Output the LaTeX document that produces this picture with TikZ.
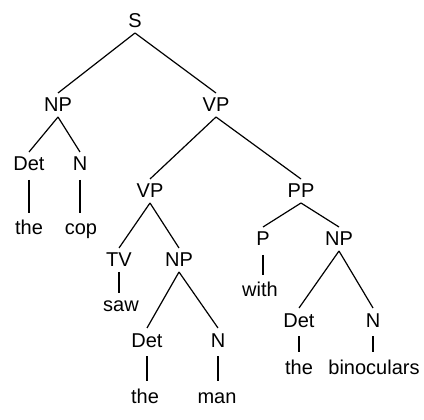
\documentclass[tikz,border=0pt]{standalone}
\usepackage{fontspec}
\setmainfont{Liberation Sans}
\begin{document}
\begin{tikzpicture}[x=1pt,y=-1pt,
  lab/.style={anchor=base,inner sep=0pt,outer sep=5pt,text height=14pt,text depth=0pt,
    font=\fontsize{20}{22}\selectfont},
  edge/.style={line width=1.2pt,line cap=butt},
  vedge/.style={edge,shorten <=4pt,shorten >=3pt}]
\useasboundingbox (0,0) rectangle (424,420);
\node[lab] (S) at (135,28) {S};
\node[lab] (NP1) at (58,112) {NP};
\node[lab] (VP1) at (216,112) {VP};
\node[lab] (Det1) at (29,171) {Det};
\node[lab] (N1) at (80,171) {N};
\node[lab] (the1) at (29,235) {the};
\node[lab] (cop) at (81,235) {cop};
\node[lab] (VP2) at (150,198) {VP};
\node[lab] (PP) at (301,198) {PP};
\node[lab] (TV) at (119,267) {TV};
\node[lab] (NP2) at (179,267) {NP};
\node[lab] (saw) at (121,312) {saw};
\node[lab] (Det2) at (147,347) {Det};
\node[lab] (N2) at (218,347) {N};
\node[lab] (the2) at (145,403) {the};
\node[lab] (man) at (217,403) {man};
\node[lab] (P) at (263,246) {P};
\node[lab] (NP3) at (339,246) {NP};
\node[lab] (with) at (260,297) {with};
\node[lab] (Det3) at (299,327) {Det};
\node[lab] (N3) at (373,327) {N};
\node[lab] (the3) at (299,374) {the};
\node[lab] (bin) at (374,374) {binoculars};
\draw[edge] (S.south) -- (NP1.north);
\draw[edge] (S.south) -- (VP1.north);
\draw[edge] (NP1.south) -- (Det1.north);
\draw[edge] (NP1.south) -- (N1.north);
\draw[vedge] (Det1.south) -- (Det1.south|-the1.north);
\draw[vedge] (N1.south) -- (N1.south|-cop.north);
\draw[edge] (VP1.south) -- (VP2.north);
\draw[edge] (VP1.south) -- (PP.north);
\draw[edge] (VP2.south) -- (TV.north);
\draw[edge] (VP2.south) -- (NP2.north);
\draw[edge] (TV.south) -- (TV.south|-saw.north);
\draw[edge] (NP2.south) -- (Det2.north);
\draw[edge] (NP2.south) -- (N2.north);
\draw[vedge] (Det2.south) -- (Det2.south|-the2.north);
\draw[vedge] (N2.south) -- (N2.south|-man.north);
\draw[edge] (PP.south) -- (P.north);
\draw[edge] (PP.south) -- (NP3.north);
\draw[vedge] (P.south) -- (P.south|-with.north);
\draw[edge] (NP3.south) -- (Det3.north);
\draw[edge] (NP3.south) -- (N3.north);
\draw[vedge] (Det3.south) -- (Det3.south|-the3.north);
\draw[vedge] (N3.south) -- (N3.south|-bin.north);
\end{tikzpicture}
\end{document}
